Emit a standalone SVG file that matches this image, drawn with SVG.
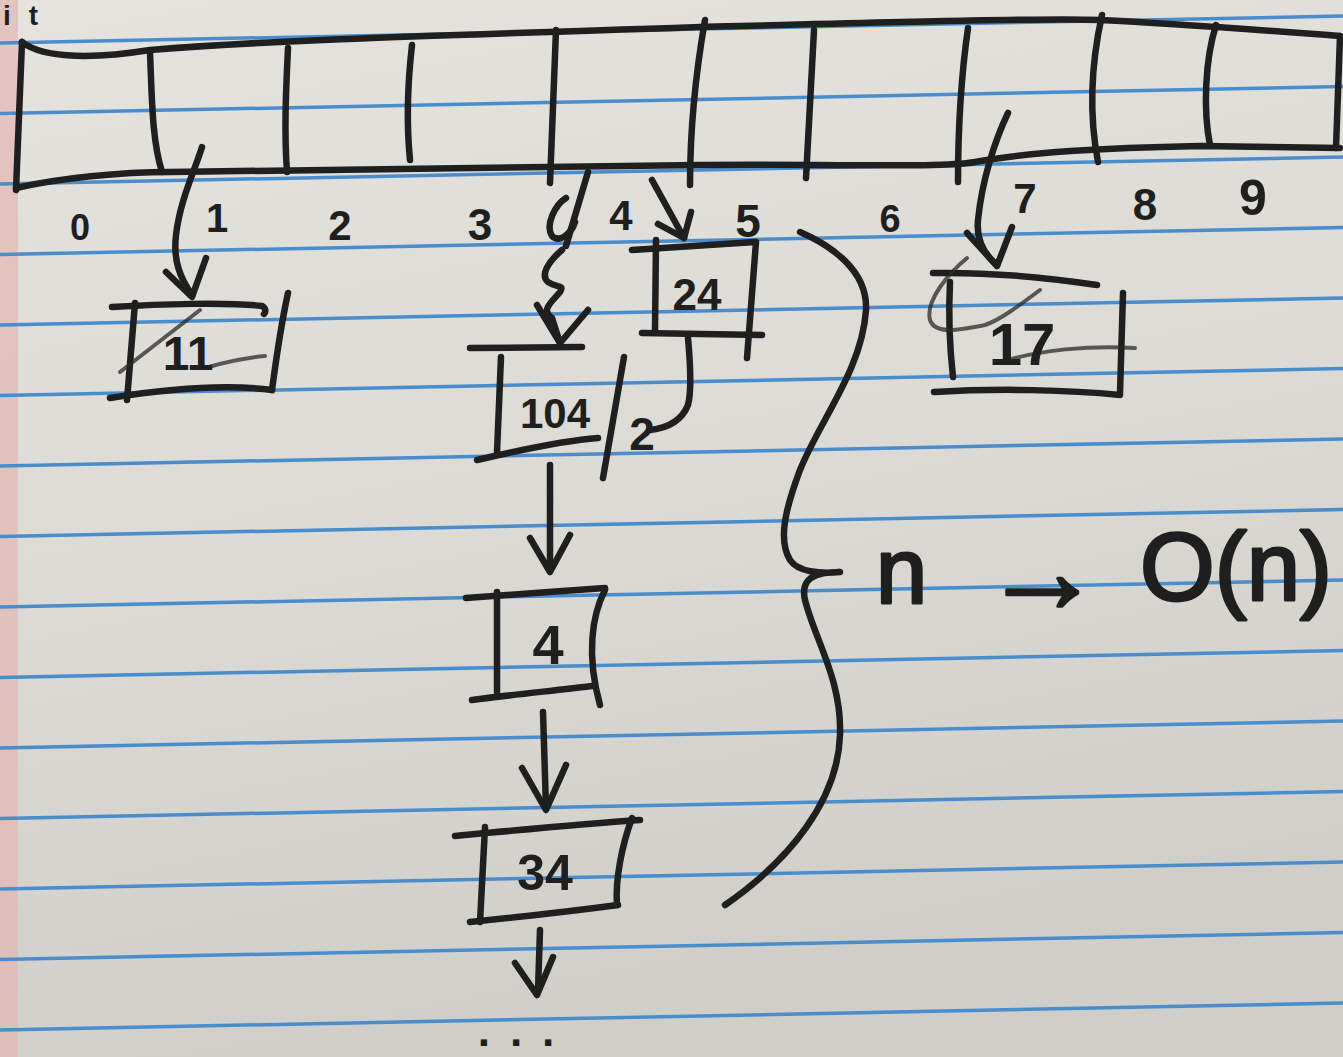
<svg xmlns="http://www.w3.org/2000/svg" width="1343" height="1057" viewBox="0 0 1343 1057">
  <defs>
    <linearGradient id="paperShade" x1="0" y1="0" x2="0.25" y2="1">
      <stop offset="0" stop-color="#e4e3de"/>
      <stop offset="0.55" stop-color="#dbdad4"/>
      <stop offset="1" stop-color="#cfcec8"/>
    </linearGradient>
    <style>
      .rule { stroke: #4a8dcc; stroke-width: 3.5; }
      .ink { fill: none; stroke: #1f1f1f; stroke-width: 6.5; stroke-linecap: round; stroke-linejoin: round; }
      .thin { fill: none; stroke: #2a2a2a; stroke-width: 4; stroke-linecap: round; stroke-linejoin: round; opacity: 0.75; }
      .num { font-family: "Liberation Sans", "DejaVu Sans", sans-serif; font-weight: 700; fill: #1f1f1f; text-anchor: middle; }
      .note { font-family: "Liberation Sans", "DejaVu Sans", sans-serif; fill: #1f1f1f; stroke: #1f1f1f; stroke-width: 3; stroke-linejoin: round; }
      .corner { font-family: "Liberation Sans", "DejaVu Sans", sans-serif; font-weight: 700; fill: #1f1f1f; text-anchor: start; }
    </style>
  </defs>

  <!-- ruled notebook paper -->
  <g id="paper">
    <rect x="0" y="0" width="1343" height="1057" fill="url(#paperShade)"/>
    <rect x="0" y="0" width="18" height="1057" fill="#e6b7b4" opacity="0.7"/>
    <g class="rule">
      <line x1="0" y1="43" x2="1343" y2="16"/>
      <line x1="0" y1="113.5" x2="1343" y2="86.5"/>
      <line x1="0" y1="184" x2="1343" y2="157"/>
      <line x1="0" y1="254.5" x2="1343" y2="227.5"/>
      <line x1="0" y1="325" x2="1343" y2="298"/>
      <line x1="0" y1="395.5" x2="1343" y2="368.5"/>
      <line x1="0" y1="466" x2="1343" y2="439"/>
      <line x1="0" y1="536.5" x2="1343" y2="509.5"/>
      <line x1="0" y1="607" x2="1343" y2="580"/>
      <line x1="0" y1="677.5" x2="1343" y2="650.5"/>
      <line x1="0" y1="748" x2="1343" y2="721"/>
      <line x1="0" y1="818.5" x2="1343" y2="791.5"/>
      <line x1="0" y1="889" x2="1343" y2="862"/>
      <line x1="0" y1="959.5" x2="1343" y2="932.5"/>
      <line x1="0" y1="1030" x2="1343" y2="1003"/>
    </g>
    <text class="corner" x="3" y="25" font-size="28" letter-spacing="18">it</text>
  </g>

  <!-- bucket array with ten slots -->
  <g id="bucket-array">
    <path class="ink" d="M22,42 C45,60 100,58 150,50 C300,38 500,34 700,27 C900,22 1050,18 1100,20 C1180,24 1260,30 1340,36"/>
    <path class="ink" d="M1340,36 L1336,148"/>
    <path class="ink" d="M16,188 C60,178 120,172 170,172 C350,170 550,166 700,165 C850,164 940,168 975,162 C1030,152 1100,148 1200,146 L1340,148"/>
    <path class="ink" d="M22,42 L16,190"/>
    <path class="ink" d="M150,52 C152,100 152,140 162,172"/>
    <path class="ink" d="M288,48 C286,90 284,130 287,172"/>
    <path class="ink" d="M412,45 C408,80 406,120 410,160"/>
    <path class="ink" d="M556,30 L550,183"/>
    <path class="ink" d="M705,20 C698,60 690,120 690,185"/>
    <path class="ink" d="M814,30 L806,178"/>
    <path class="ink" d="M968,28 C962,70 958,120 958,182"/>
    <path class="ink" d="M1102,15 C1092,60 1088,110 1098,162"/>
    <path class="ink" d="M1216,25 C1205,60 1203,110 1210,145"/>
  </g>

  <!-- slot indices -->
  <g id="indices">
    <text class="num" x="80" y="240" font-size="36">0</text>
    <text class="num" x="217" y="232" font-size="40">1</text>
    <text class="num" x="340" y="240" font-size="42">2</text>
    <text class="num" x="480" y="240" font-size="44">3</text>
    <text class="num" x="621" y="230" font-size="42">4</text>
    <text class="num" x="748" y="237" font-size="46">5</text>
    <text class="num" x="890" y="232" font-size="38">6</text>
    <text class="num" x="1025" y="213" font-size="42">7</text>
    <text class="num" x="1145" y="220" font-size="44">8</text>
    <text class="num" x="1253" y="215" font-size="50">9</text>
  </g>

  <!-- entry 11 in slot 1 -->
  <g id="entry-11">
    <path class="ink" d="M112,307 C160,304 230,302 262,306 C266,308 266,312 264,314"/>
    <path class="ink" d="M135,303 L127,400"/>
    <path class="ink" d="M110,398 C160,390 220,383 272,390"/>
    <path class="ink" d="M288,293 C282,320 276,360 272,390"/>
    <path class="thin" d="M120,372 L200,310"/>
    <path class="thin" d="M205,368 C225,362 245,358 265,356"/>
    <text class="num" x="188" y="370" font-size="48">11</text>
  </g>

  <!-- entry 24 in slot 4 -->
  <g id="entry-24">
    <path class="ink" d="M632,250 L755,242"/>
    <path class="ink" d="M656,240 L655,332"/>
    <path class="ink" d="M756,242 L747,358"/>
    <path class="ink" d="M642,333 L762,335"/>
    <text class="num" x="697" y="310" font-size="44">24</text>
  </g>

  <!-- entry 104 with its next field -->
  <g id="entry-104">
    <path class="ink" d="M470,348 L582,347"/>
    <path class="ink" d="M501,357 L497,452"/>
    <path class="ink" d="M477,460 C520,450 570,440 598,438"/>
    <path class="ink" d="M624,357 L603,478"/>
    <text class="num" x="555" y="428" font-size="42">104</text>
    <text class="num" x="642" y="450" font-size="46">2</text>
  </g>

  <!-- entry 4 -->
  <g id="entry-4">
    <path class="ink" d="M466,598 C510,595 560,591 605,588"/>
    <path class="ink" d="M497,592 L497,692"/>
    <path class="ink" d="M472,700 C510,695 560,690 592,686"/>
    <path class="ink" d="M605,590 C592,615 586,655 600,705"/>
    <text class="num" x="548" y="664" font-size="56">4</text>
  </g>

  <!-- entry 34 -->
  <g id="entry-34">
    <path class="ink" d="M455,836 C520,830 580,824 640,820"/>
    <path class="ink" d="M485,827 L480,922"/>
    <path class="ink" d="M470,922 C520,917 580,910 618,905"/>
    <path class="ink" d="M632,818 C622,845 615,880 617,905"/>
    <text class="num" x="545" y="890" font-size="50">34</text>
  </g>

  <!-- entry 17 in slot 7 -->
  <g id="entry-17">
    <path class="ink" d="M933,273 C990,272 1050,278 1097,285"/>
    <path class="ink" d="M950,282 C948,320 950,350 953,377"/>
    <path class="ink" d="M1123,293 L1120,393"/>
    <path class="ink" d="M934,392 C1000,388 1070,390 1120,395"/>
    <path class="thin" d="M967,258 C950,272 925,300 930,320 C935,335 960,330 985,325 C1000,320 1020,305 1040,290"/>
    <path class="thin" d="M1000,362 C1040,350 1090,345 1135,348"/>
    <text class="num" x="1022" y="365" font-size="60">17</text>
  </g>

  <!-- pointers between slots and entries -->
  <g id="connectors">
    <path class="ink" d="M202,147 C195,170 180,200 176,235 C173,260 180,278 192,295"/>
    <path class="ink" d="M166,272 L192,297 L206,258"/>

    <path class="ink" d="M588,172 L566,246"/>
    <path class="ink" d="M566,198 C555,205 545,225 552,236 C560,244 572,232 575,222"/>
    <path class="ink" d="M562,250 C548,262 540,275 548,282 C556,288 565,284 560,292 C552,302 540,310 552,318 L560,343"/>
    <path class="ink" d="M537,305 L560,343 L588,310"/>

    <path class="ink" d="M652,180 L684,238"/>
    <path class="ink" d="M658,224 L684,238 L691,212"/>

    <path class="ink" d="M688,338 C690,360 692,390 688,405 C682,420 668,428 650,430"/>

    <path class="ink" d="M550,465 L550,570"/>
    <path class="ink" d="M530,538 L550,572 L570,535"/>

    <path class="ink" d="M543,712 L546,808"/>
    <path class="ink" d="M522,768 L546,810 L566,765"/>

    <path class="ink" d="M540,930 L538,990"/>
    <path class="ink" d="M515,963 L537,995 L553,957" stroke-width="9"/>

    <path class="ink" d="M1008,113 C995,140 982,180 978,220 C976,240 985,255 997,265"/>
    <path class="ink" d="M967,233 L997,266 L1012,227"/>
  </g>

  <!-- brace over the chain with its cost note -->
  <g id="chain-cost">
    <path class="ink" d="M800,232 C830,245 868,270 866,310 C862,370 820,420 800,470 C785,510 778,540 790,560 C798,572 820,574 840,572 C815,572 800,578 805,600 C815,640 842,680 840,735 C838,800 790,860 725,905" stroke-width="5"/>
    <text class="note" x="876" y="603" font-size="92">n</text>
    <text class="note" x="982" y="612" font-size="120" stroke-width="2">→</text>
    <text class="note" x="1140" y="600" font-size="96">O(n)</text>
    <text class="num" x="526" y="1046" font-size="44" letter-spacing="20">...</text>
  </g>
</svg>
